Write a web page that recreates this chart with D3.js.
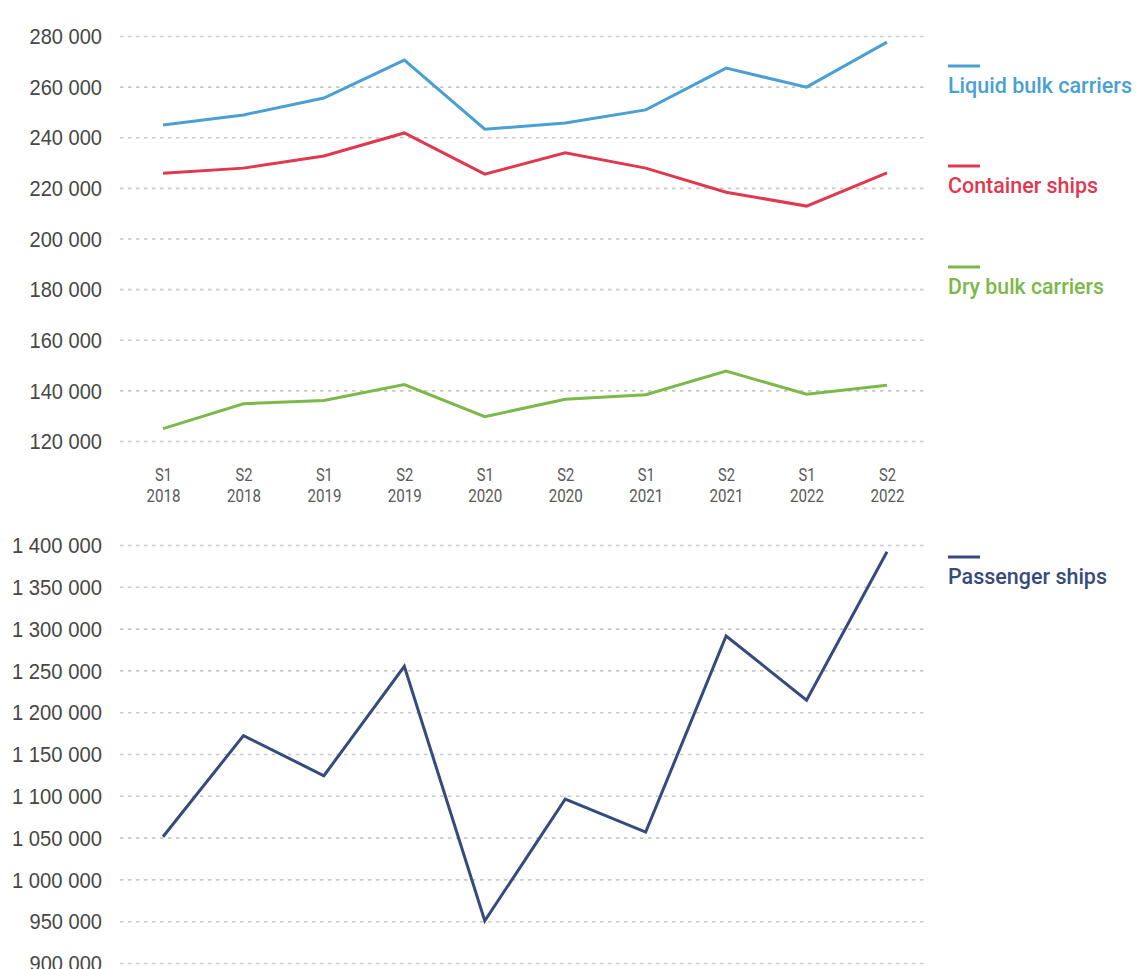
<!DOCTYPE html>
<html>
<head>
<meta charset="utf-8">
<script src="https://cdn.jsdelivr.net/npm/d3@7"></script>
<style>
  html, body { margin: 0; padding: 0; background: #fff; }
  svg { display: block; }
</style>
</head>
<body>
<svg id="chart" width="1136" height="969"></svg>
<script>
// Half-year periods shown on the x axis
const periods = ["S1 2018", "S2 2018", "S1 2019", "S2 2019", "S1 2020",
                 "S2 2020", "S1 2021", "S2 2021", "S1 2022", "S2 2022"];

// Cargo ship series (upper panel)
const liquidBulk = [244800, 248800, 255500, 270500, 243200, 245600, 250800, 267300, 259800, 277600];
const containerShips = [225800, 227800, 232600, 241700, 225400, 233900, 227800, 218300, 212800, 225900];
const dryBulk = [124900, 134700, 136000, 142300, 129600, 136500, 138300, 147600, 138500, 142000];

// Passenger series (lower panel)
const passengerShips = [1051000, 1172000, 1124000, 1254800, 950500, 1096000, 1056500, 1291200, 1214400, 1392000];

// Axis ticks
const topTicks = [120000, 140000, 160000, 180000, 200000, 220000, 240000, 260000, 280000];
const bottomTicks = [900000, 950000, 1000000, 1050000, 1100000, 1150000, 1200000,
                     1250000, 1300000, 1350000, 1400000];

const topSeries = [
  { name: "Liquid bulk carriers", values: liquidBulk, color: "#4aa0d2", legendY: 66, textLen: 184 },
  { name: "Container ships", values: containerShips, color: "#e0384f", legendY: 166, textLen: 150 },
  { name: "Dry bulk carriers", values: dryBulk, color: "#7cb84a", legendY: 267, textLen: 156 }
];
const bottomSeries = [
  { name: "Passenger ships", values: passengerShips, color: "#354b7e", legendY: 557, textLen: 159 }
];

const svg = d3.select("#chart");
const fmt = d3.formatLocale({ decimal: ".", thousands: " ", grouping: [3], currency: ["", ""] }).format(",");

const gridLeft = 120, gridRight = 928;
const x = d3.scalePoint().domain(periods).range([163, 887]);
const yTop = d3.scaleLinear().domain([120000, 280000]).range([441, 36]);
const yBottom = d3.scaleLinear().domain([900000, 1400000]).range([963, 545]);

// Narrow number labels: fixed advance per digit and per group space
function labelWidth(s) {
  let w = 0;
  for (const ch of s) w += ch === " " ? 6.5 : 11;
  return w;
}

function drawYAxis(scale, ticks) {
  const g = svg.append("g")
    .attr("transform", `translate(${gridLeft},0)`)
    .call(d3.axisLeft(scale)
      .tickValues(ticks)
      .tickFormat(fmt)
      .tickSizeInner(-(gridRight - gridLeft))
      .tickSizeOuter(0)
      .tickPadding(18));
  g.select(".domain").remove();
  g.selectAll(".tick line")
    .attr("stroke", "#c9c9c9")
    .attr("stroke-width", 1.6)
    .attr("stroke-dasharray", "3.5,4.5");
  g.selectAll(".tick text")
    .attr("fill", "#474747")
    .style("font-family", "'Liberation Sans', Arial, sans-serif")
    .style("font-size", "22px")
    .attr("dy", "0.35em")
    .attr("textLength", function () { return labelWidth(this.textContent); })
    .attr("lengthAdjust", "spacingAndGlyphs");
}

function drawLines(series, scale) {
  const line = d3.line()
    .x((d, i) => x(periods[i]))
    .y(d => scale(d));
  svg.append("g").selectAll("path")
    .data(series)
    .join("path")
    .attr("d", d => line(d.values))
    .attr("fill", "none")
    .attr("stroke", d => d.color)
    .attr("stroke-width", 3)
    .attr("stroke-linejoin", "miter");
}

function drawLegend(series) {
  const g = svg.append("g").selectAll("g")
    .data(series)
    .join("g")
    .attr("transform", d => `translate(948,${d.legendY})`);
  g.append("line")
    .attr("x1", 0).attr("x2", 32)
    .attr("y1", 0).attr("y2", 0)
    .attr("stroke", d => d.color)
    .attr("stroke-width", 3);
  g.append("text")
    .attr("x", 0).attr("y", 27)
    .attr("fill", d => d.color)
    .attr("textLength", d => d.textLen)
    .attr("lengthAdjust", "spacingAndGlyphs")
    .style("font-family", "Roboto, 'Noto Sans', sans-serif")
    .style("font-size", "22px")
    .style("font-weight", 500)
    .text(d => d.name);
}

// Upper panel
drawYAxis(yTop, topTicks);

const xAxis = svg.append("g")
  .attr("transform", "translate(0,441)")
  .call(d3.axisBottom(x).tickSize(0).tickFormat(""));
xAxis.select(".domain").remove();
xAxis.selectAll(".tick text").remove();
xAxis.selectAll(".tick").each(function (d) {
  const [half, year] = d.split(" ");
  const t = d3.select(this);
  t.append("text")
    .attr("y", 40).attr("text-anchor", "middle")
    .attr("fill", "#5a5a5a")
    .attr("textLength", 17).attr("lengthAdjust", "spacingAndGlyphs")
    .style("font-family", "Roboto, sans-serif").style("font-size", "19px")
    .text(half);
  t.append("text")
    .attr("y", 61).attr("text-anchor", "middle")
    .attr("fill", "#5a5a5a")
    .attr("textLength", 34).attr("lengthAdjust", "spacingAndGlyphs")
    .style("font-family", "Roboto, sans-serif").style("font-size", "19px")
    .text(year);
});

drawLines(topSeries, yTop);
drawLegend(topSeries);

// Lower panel
drawYAxis(yBottom, bottomTicks);
drawLines(bottomSeries, yBottom);
drawLegend(bottomSeries);
</script>
</body>
</html>
